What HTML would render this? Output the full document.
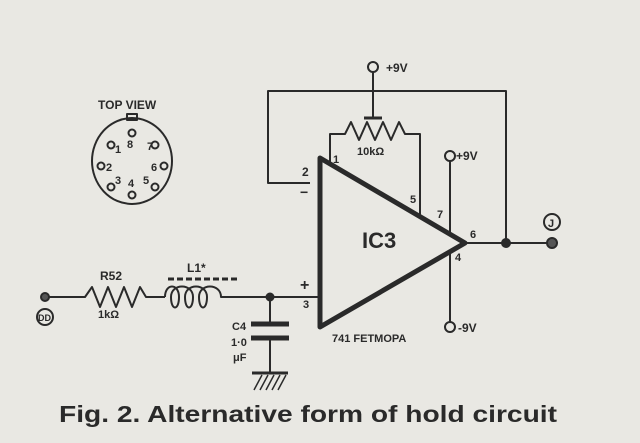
<!DOCTYPE html>
<html><head><meta charset="utf-8"><style>
html,body{margin:0;padding:0;background:#e9e8e3;}
svg{display:block}
text{font-family:"Liberation Sans",sans-serif;fill:#2a2a2a;font-weight:bold}
</style></head><body>
<svg width="640" height="443" viewBox="0 0 640 443" xmlns="http://www.w3.org/2000/svg">
<rect width="640" height="443" fill="#e9e8e3"/>
<g stroke="#2a2a2a" stroke-width="2" fill="none" stroke-linejoin="round">
<polyline points="310,183 268,183 268,91 506,91 506,243"/>
<polygon points="320,158 320,327 465,243" stroke-width="5"/>
<line x1="465" y1="243" x2="548" y2="243"/>
<circle cx="506" cy="243" r="4" fill="#2a2a2a"/>
<circle cx="552" cy="243" r="5" fill="#555" stroke-width="2"/>
<circle cx="552" cy="222" r="8"/>
<circle cx="373" cy="67" r="5"/>
<line x1="373" y1="72" x2="373" y2="118"/>
<line x1="364" y1="118" x2="382" y2="118" stroke-width="3"/>
<polyline points="330,165 330,134 345,134 351,122 359,140 367,122 375,140 383,122 391,140 399,122 405,134 420,134 420,215"/>
<circle cx="450" cy="156" r="5"/>
<line x1="450" y1="161" x2="450" y2="233"/>
<line x1="450" y1="252" x2="450" y2="322"/>
<circle cx="450" cy="327" r="5"/>
<circle cx="45" cy="297" r="4" fill="#555"/>
<circle cx="45" cy="317" r="8"/>
<polyline points="49,297 85,297 92,287 100,307 108,287 116,307 124,287 132,307 140,287 146,297 165,297"/>
<path d="M165,297 c0,-14 14,-14 14,0 c0,14 -8,14 -8,0 c0,-14 22,-14 22,0 c0,14 -8,14 -8,0 c0,-14 22,-14 22,0 c0,14 -8,14 -8,0 c0,-14 22,-14 22,0 l0,0 L320,297"/>
<line x1="168" y1="279" x2="240" y2="279" stroke-width="3" stroke-dasharray="6,3"/>
<circle cx="270" cy="297" r="3.5" fill="#2a2a2a"/>
<line x1="270" y1="297" x2="270" y2="324"/>
<line x1="251" y1="324" x2="289" y2="324" stroke-width="5"/>
<line x1="251" y1="338" x2="289" y2="338" stroke-width="5"/>
<line x1="270" y1="338" x2="270" y2="372"/>
<line x1="252" y1="373" x2="288" y2="373" stroke-width="3"/>
<g stroke-width="1.5"><line x1="254" y1="390" x2="262" y2="375"/><line x1="260" y1="390" x2="268" y2="375"/><line x1="266" y1="390" x2="274" y2="375"/><line x1="272" y1="390" x2="280" y2="375"/><line x1="278" y1="390" x2="286" y2="375"/></g>
<ellipse cx="132" cy="161" rx="40" ry="43"/>
<rect x="127" y="114" width="10" height="6"/>
<circle cx="111" cy="145" r="3.5"/><circle cx="101" cy="166" r="3.5"/><circle cx="111" cy="187" r="3.5"/>
<circle cx="132" cy="195" r="3.5"/><circle cx="155" cy="187" r="3.5"/><circle cx="164" cy="166" r="3.5"/>
<circle cx="155" cy="145" r="3.5"/><circle cx="132" cy="133" r="3.5"/>
</g>
<g font-size="12">
<text x="98" y="109">TOP VIEW</text>
<text x="115" y="153" font-size="11">1</text><text x="127" y="148" font-size="11">8</text><text x="147" y="150" font-size="11">7</text>
<text x="106" y="171" font-size="11">2</text><text x="151" y="171" font-size="11">6</text>
<text x="115" y="184" font-size="11">3</text><text x="128" y="187" font-size="11">4</text><text x="143" y="184" font-size="11">5</text>
<text x="386" y="72" font-size="12">+9V</text>
<text x="357" y="155" font-size="11">10kΩ</text>
<text x="333" y="163" font-size="11">1</text>
<text x="302" y="176" font-size="12">2</text>
<text x="300" y="197" font-size="14">−</text>
<text x="410" y="203" font-size="11">5</text>
<text x="437" y="218" font-size="11">7</text>
<text x="470" y="238" font-size="11">6</text>
<text x="455" y="261" font-size="11">4</text>
<text x="456" y="160" font-size="12">+9V</text>
<text x="458" y="332" font-size="12">-9V</text>
<text x="362" y="248" font-size="22" font-family="Liberation Serif">IC3</text>
<text x="332" y="342" font-size="11">741 FETMOPA</text>
<text x="300" y="290" font-size="16">+</text>
<text x="303" y="308" font-size="11">3</text>
<text x="100" y="280" font-size="12">R52</text>
<text x="98" y="318" font-size="11">1kΩ</text>
<text x="187" y="272" font-size="12">L1*</text>
<text x="38" y="321" font-size="9">DD</text>
<text x="548" y="227" font-size="11">J</text>
<text x="232" y="330" font-size="11">C4</text>
<text x="231" y="346" font-size="11">1·0</text>
<text x="233" y="361" font-size="11">μF</text>
</g>
<text x="59" y="422" font-size="23" textLength="498" lengthAdjust="spacingAndGlyphs">Fig. 2. Alternative form of hold circuit</text>
</svg>
</body></html>
